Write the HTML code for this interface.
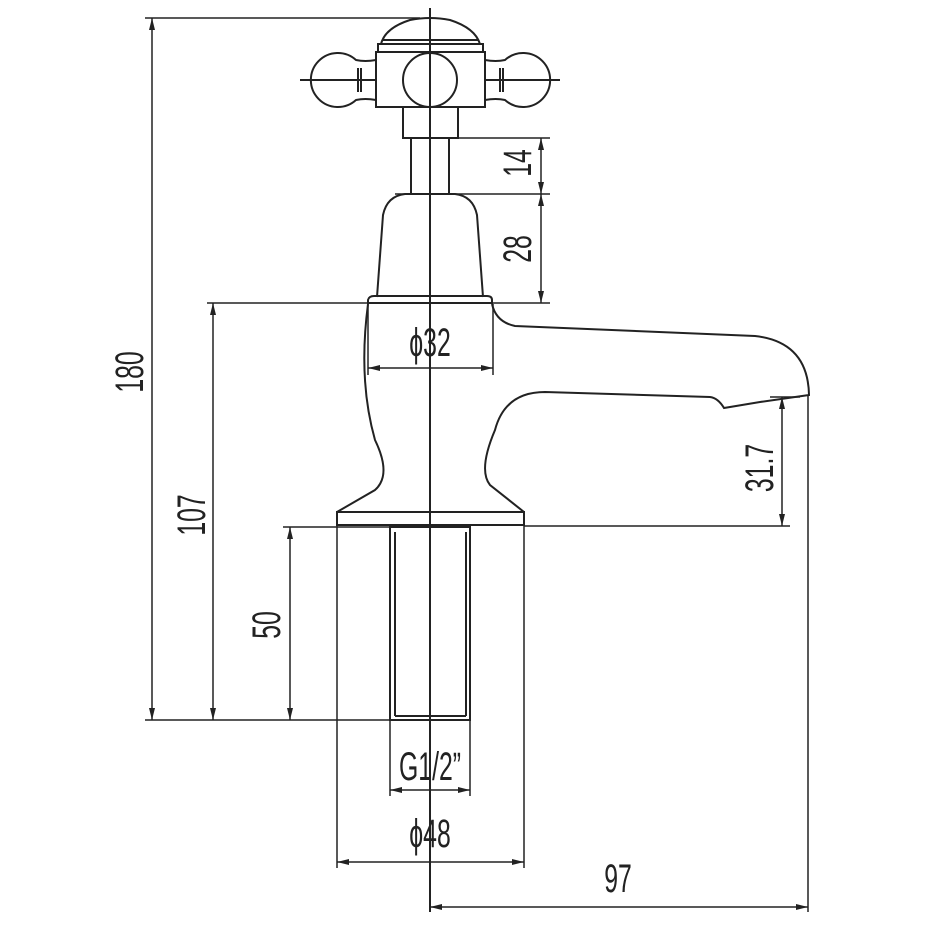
<!DOCTYPE html>
<html><head><meta charset="utf-8"><style>
html,body{margin:0;padding:0;background:#fff;}
svg{display:block}
text{font-family:"Liberation Sans",sans-serif;font-size:40px;fill:#222;}
</style></head><body>
<svg width="925" height="925" viewBox="0 0 925 925" xmlns="http://www.w3.org/2000/svg">
<defs>
<marker id="a" viewBox="0 0 12 6" refX="12" refY="3" markerWidth="12" markerHeight="6" markerUnits="userSpaceOnUse" orient="auto-start-reverse"><path d="M0,0 L12,3 L0,6 z" fill="#222"/></marker>
</defs>
<g fill="none" stroke="#222" stroke-width="2">
<line x1="430" y1="8" x2="430" y2="912"/>
<path d="M381,44 Q385,28 410,20 Q430,16 450,20 Q475,28 480,44 Z"/>
<line x1="382" y1="40" x2="479" y2="40"/>
<rect x="378" y="44" width="105" height="8"/>
<rect x="376" y="52" width="109" height="55"/>
<circle cx="430" cy="80" r="27"/>
<path d="M376,60 Q365,62 356,60 A27,27 0 1 0 356,100 Q365,98 376,100"/>
<line x1="358" y1="68" x2="358" y2="92"/>
<line x1="361" y1="68" x2="361" y2="92"/>
<line x1="300" y1="80" x2="376" y2="80"/>
<path d="M485,60 Q496,62 505,60 A27,27 0 1 1 505,100 Q496,98 485,100"/>
<line x1="503" y1="68" x2="503" y2="92"/>
<line x1="500" y1="68" x2="500" y2="92"/>
<line x1="485" y1="80" x2="560" y2="80"/>
<rect x="403" y="107" width="55" height="31"/>
<line x1="411" y1="138" x2="411" y2="194"/>
<line x1="449" y1="138" x2="449" y2="194"/>
<path d="M377,297 L383,215 Q387,196 405,194 L455,194 Q473,196 477,215 L483,297"/>
<path d="M368,303 L368,300 Q369,296 374,296 L487,296 Q492,296 492,300 L492,303 Z"/>
<path d="M368,304 Q358,380 375,440 Q392,475 375,490 L337,512"/>
<path d="M492,304 Q496,322 515,326 L755,336 Q808,342 809,395 L760,402 L724,408 Q718,398 710,397 L545,392 Q505,392 495,430 Q478,470 490,485 L524,512"/>
<rect x="337" y="512" width="187" height="13"/>
<rect x="390" y="527" width="80" height="193"/>
<line x1="395" y1="532" x2="395" y2="716"/>
<line x1="466" y1="532" x2="466" y2="716"/>
<line x1="395" y1="716" x2="466" y2="716"/>
</g>
<g fill="none" stroke="#222" stroke-width="1.5">
<line x1="145" y1="18" x2="420" y2="18"/>
<line x1="145" y1="720" x2="390" y2="720"/>
<line x1="207" y1="303" x2="368" y2="303"/>
<line x1="283" y1="527" x2="390" y2="527"/>
<line x1="458" y1="138" x2="550" y2="138"/>
<line x1="395" y1="194" x2="550" y2="194"/>
<line x1="485" y1="303" x2="550" y2="303"/>
<line x1="524" y1="526" x2="790" y2="526"/>
<line x1="770" y1="397" x2="800" y2="397"/>
<line x1="808" y1="395" x2="808" y2="912"/>
<line x1="337" y1="525" x2="337" y2="868"/>
<line x1="524" y1="525" x2="524" y2="868"/>
<line x1="390" y1="720" x2="390" y2="796"/>
<line x1="470" y1="720" x2="470" y2="796"/>
<line x1="368" y1="304" x2="368" y2="375"/>
<line x1="493" y1="304" x2="493" y2="375"/>
<line x1="152" y1="18" x2="152" y2="720" marker-start="url(#a)" marker-end="url(#a)"/>
<line x1="213" y1="303" x2="213" y2="720" marker-start="url(#a)" marker-end="url(#a)"/>
<line x1="290" y1="527" x2="290" y2="720" marker-start="url(#a)" marker-end="url(#a)"/>
<line x1="541" y1="138" x2="541" y2="194" marker-start="url(#a)" marker-end="url(#a)"/>
<line x1="541" y1="194" x2="541" y2="303" marker-start="url(#a)" marker-end="url(#a)"/>
<line x1="782" y1="397" x2="782" y2="526" marker-start="url(#a)" marker-end="url(#a)"/>
<line x1="368" y1="368" x2="493" y2="368" marker-start="url(#a)" marker-end="url(#a)"/>
<line x1="390" y1="790" x2="470" y2="790" marker-start="url(#a)" marker-end="url(#a)"/>
<line x1="337" y1="862" x2="524" y2="862" marker-start="url(#a)" marker-end="url(#a)"/>
<line x1="430" y1="907" x2="808" y2="907" marker-start="url(#a)" marker-end="url(#a)"/>
</g>
<g>
<text transform="translate(143,372) rotate(-90) scale(0.62,1)" text-anchor="middle">180</text>
<text transform="translate(205,515) rotate(-90) scale(0.62,1)" text-anchor="middle">107</text>
<text transform="translate(280,625) rotate(-90) scale(0.62,1)" text-anchor="middle">50</text>
<text transform="translate(531,163) rotate(-90) scale(0.62,1)" text-anchor="middle">14</text>
<text transform="translate(531,249) rotate(-90) scale(0.62,1)" text-anchor="middle">28</text>
<text transform="translate(773,468) rotate(-90) scale(0.62,1)" text-anchor="middle">31.7</text>
<text transform="translate(430,356) scale(0.62,1)" text-anchor="middle">ϕ32</text>
<text transform="translate(430,780) scale(0.62,1)" text-anchor="middle">G1/2”</text>
<text transform="translate(430,847) scale(0.62,1)" text-anchor="middle">ϕ48</text>
<text transform="translate(618,892) scale(0.62,1)" text-anchor="middle">97</text>
</g>
</svg>
</body></html>
